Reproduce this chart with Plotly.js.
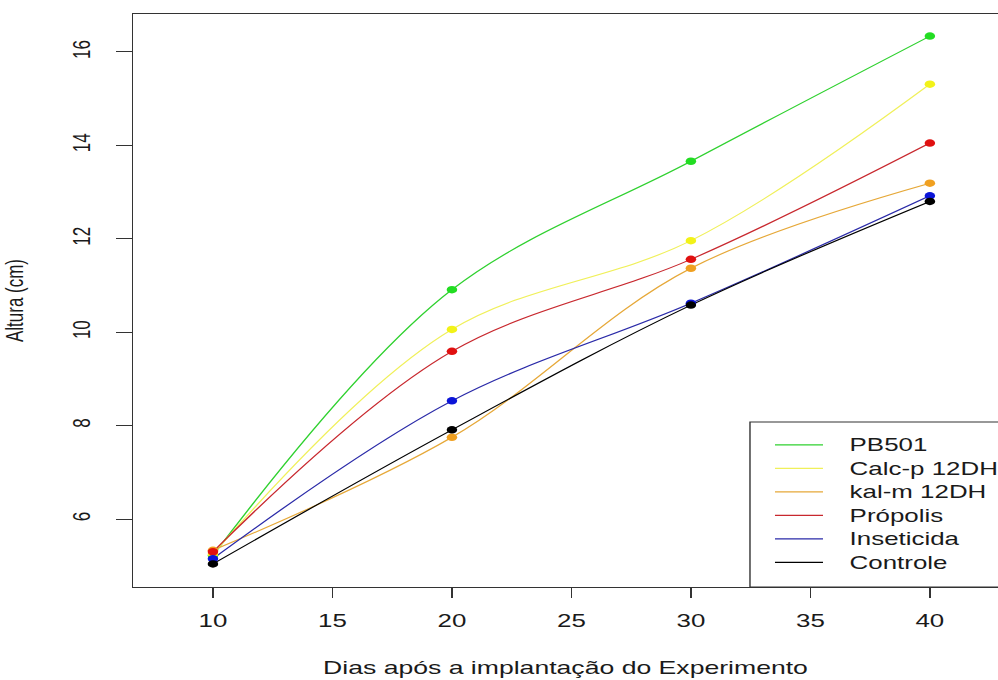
<!DOCTYPE html>
<html>
<head>
<meta charset="utf-8">
<script src="https://cdn.plot.ly/plotly-3.0.1.min.js"></script>
<style>
  html, body { margin: 0; padding: 0; background: #fff; overflow: hidden; }
  #wrap { width: 998px; height: 680px; overflow: hidden; }
  #chart { width: 713px; height: 680px; transform: scaleX(1.3997); transform-origin: 0 0; }
</style>
</head>
<body>
<div id="wrap"><div id="chart"></div></div>
<script>
// Data
const days = [10, 20, 30, 40];
const seriesNames = ["PB501", "Calc-p 12DH", "kal-m 12DH", "Própolis", "Inseticida", "Controle"];
const pb501      = [5.22, 10.91, 13.66, 16.34];
const calcp12dh  = [5.25, 10.06, 11.96, 15.31];
const kalm12dh   = [5.33, 7.75, 11.37, 13.19];
const propolis   = [5.30, 9.59, 11.56, 14.05];
const inseticida = [5.15, 8.53, 10.62, 12.92];
const controle   = [5.04, 7.91, 10.58, 12.80];
const xTicks = [10, 15, 20, 25, 30, 35, 40];
const yTicks = [6, 8, 10, 12, 14, 16];

const values = [pb501, calcp12dh, kalm12dh, propolis, inseticida, controle];
const lineColors   = ["#2fd12f", "#f0f05a", "#e6a838", "#c8282e", "#2a2aa8", "#000000"];
const markerColors = ["#22dd22", "#f2f218", "#f0a020", "#e01010", "#0b14d8", "#000000"];

const FONT = "Liberation Sans, Arial, sans-serif";
const TXT = "#1a1a1a";
const traces = [];
values.forEach((v, i) => {
  traces.push({
    x: days, y: v, name: seriesNames[i], type: "scatter", mode: "lines",
    line: { color: lineColors[i], width: 1.1, shape: "spline", smoothing: 1.0 },
    showlegend: false, hoverinfo: "skip"
  });
});
values.forEach((v, i) => {
  traces.push({
    x: days, y: v, name: seriesNames[i], type: "scatter", mode: "markers",
    marker: { color: markerColors[i], size: 7.5 },
    showlegend: false, hoverinfo: "skip"
  });
});

// Legend box (R-style, inside bottom-right, cut by the right edge)
const legLeft = 0.7133, legTop = 0.288, rowTop = 0.248, rowStep = 0.041;
const legLineX0 = 0.7422, legLineX1 = 0.7977, legTextX = 0.8254;
const shapes = [{
  type: "rect", xref: "paper", yref: "paper", layer: "above",
  x0: legLeft, x1: 1.1, y0: 0, y1: legTop,
  line: { color: "#333", width: 1 }, fillcolor: "#ffffff"
}];
const annotations = [];
seriesNames.forEach((name, i) => {
  const yy = rowTop - i * rowStep;
  shapes.push({
    type: "line", xref: "paper", yref: "paper", layer: "above",
    x0: legLineX0, x1: legLineX1, y0: yy, y1: yy,
    line: { color: lineColors[i], width: 1.1 }
  });
  annotations.push({
    xref: "paper", yref: "paper", x: legTextX, y: yy,
    xanchor: "left", yanchor: "middle", showarrow: false,
    text: name, font: { family: FONT, size: 18.5, color: TXT }
  });
});

const layout = {
  width: 713, height: 680,
  margin: { l: 95, r: 0, t: 14, b: 93 },
  paper_bgcolor: "#ffffff", plot_bgcolor: "#ffffff",
  font: { family: FONT, size: 18, color: TXT },
  showlegend: false,
  shapes: shapes,
  annotations: annotations,
  xaxis: {
    range: [6.653, 42.85], tickvals: xTicks, ticktext: xTicks.map(String),
    showgrid: false, zeroline: false,
    showline: true, linecolor: "#333", linewidth: 1, mirror: true,
    ticks: "outside", ticklen: 10, tickcolor: "#333", tickwidth: 1,
    ticklabelstandoff: 7,
    tickfont: { family: FONT, size: 18.5, color: TXT },
    title: { text: "Dias após a implantação do Experimento", standoff: 30,
             font: { family: FONT, size: 19, color: TXT } },
    automargin: false, fixedrange: true
  },
  yaxis: {
    range: [4.545, 16.813], tickvals: yTicks, ticktext: yTicks.map(String),
    showgrid: false, zeroline: false,
    showline: true, linecolor: "#333", linewidth: 1, mirror: false,
    ticks: "outside", ticklen: 11, tickcolor: "#333", tickwidth: 1,
    tickangle: -90, ticklabelstandoff: 12,
    tickfont: { family: FONT, size: 17, color: TXT },
    title: { text: "Altura (cm)", standoff: 27,
             font: { family: FONT, size: 17, color: TXT } },
    automargin: false, fixedrange: true
  }
};

Plotly.newPlot("chart", traces, layout, { displayModeBar: false, staticPlot: true });
</script>
</body>
</html>
